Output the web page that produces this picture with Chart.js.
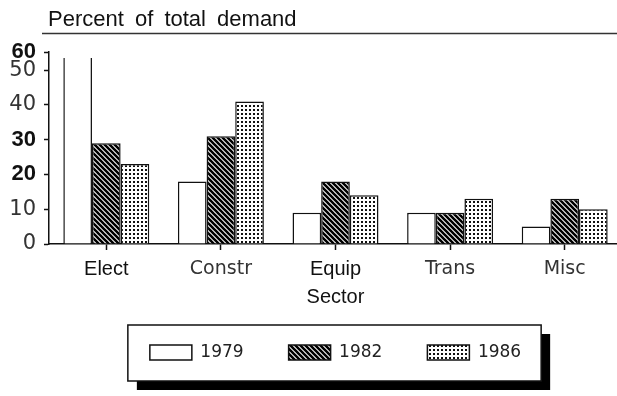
<!DOCTYPE html>
<html>
<head>
<meta charset="utf-8">
<script src="https://cdn.jsdelivr.net/npm/chart.js@4"></script>
<style>
html, body { margin: 0; padding: 0; background: #fff; overflow: hidden; }
canvas { display: block; }
</style>
</head>
<body>
<canvas id="demanda" width="622" height="396"></canvas>
<script>
const sectors = ['Elect', 'Constr', 'Equip', 'Trans', 'Misc'];
const years = ['1979', '1982', '1986'];
const share1979 = [60, 18, 9, 9, 5];
const share1982 = [29, 31, 18, 9, 13];
const share1986 = [23, 41, 14, 13, 10];
const yTickValues = [0, 10, 20, 30, 40, 50];
const yTopLabel = '60';
const boldYTicks = [20, 30];
const plainSectors = ['Elect', 'Equip'];

// axis is broken above 50, the top tick carries the "60" label
const yMax = 55.2;

function hatchPattern() {
  const s = 5;
  const c = document.createElement('canvas');
  c.width = s; c.height = s;
  const g = c.getContext('2d');
  g.fillStyle = '#fff';
  g.fillRect(0, 0, s, s);
  g.strokeStyle = '#000';
  g.lineWidth = 2.6;
  g.beginPath();
  g.moveTo(-1, -1); g.lineTo(s + 1, s + 1);
  g.moveTo(-1, s - 1); g.lineTo(1, s + 1);
  g.moveTo(s - 1, -1); g.lineTo(s + 1, 1);
  g.stroke();
  return g.createPattern(c, 'repeat');
}

function dotPattern() {
  const s = 4;
  const c = document.createElement('canvas');
  c.width = s; c.height = s;
  const g = c.getContext('2d');
  g.fillStyle = '#fff';
  g.fillRect(0, 0, s, s);
  g.fillStyle = '#111';
  g.fillRect(1, 1, 2, 2);
  return g.createPattern(c, 'repeat');
}

const isBoldTick = c => !!c.tick && (boldYTicks.includes(c.tick.value) || c.tick.value === yMax);
const isPlainSector = c => c.index !== undefined && plainSectors.includes(sectors[c.index]);

// title with rule, plus the boxed legend with its drop shadow
const decor = {
  id: 'decor',
  beforeDraw(chart) {
    const ctx = chart.ctx;
    const left = chart.chartArea.left;
    ctx.save();
    ctx.fillStyle = '#111';
    ctx.font = '22px "Liberation Sans", Arial, sans-serif';
    ctx.wordSpacing = '5px';
    ctx.textBaseline = 'alphabetic';
    ctx.fillText('Percent of total demand', left - 1, 26);
    ctx.wordSpacing = '0px';
    ctx.strokeStyle = '#333';
    ctx.lineWidth = 1.5;
    ctx.beginPath();
    ctx.moveTo(left - 7, 33.5);
    ctx.lineTo(chart.width, 33.5);
    ctx.stroke();

    const hb = chart.legend.legendHitBoxes;
    if (hb && hb.length) {
      const first = hb[0], last = hb[hb.length - 1];
      const x0 = first.left - 22, x1 = last.left + last.width + 20;
      const y0 = first.top - 19, y1 = first.top + first.height + 20;
      ctx.fillStyle = '#000';
      ctx.fillRect(x0 + 9, y0 + 9, x1 - x0, y1 - y0);
      ctx.fillStyle = '#fff';
      ctx.fillRect(x0, y0, x1 - x0, y1 - y0);
      ctx.strokeStyle = '#111';
      ctx.lineWidth = 1.5;
      ctx.strokeRect(x0, y0, x1 - x0, y1 - y0);
    }
    ctx.restore();
  }
};

const common = {
  borderColor: '#111',
  borderWidth: 1.5,
  categoryPercentage: 0.75,
  barPercentage: 1,
  clip: { left: 0, top: -6, right: 0, bottom: 0 }
};

new Chart(document.getElementById('demanda').getContext('2d'), {
  type: 'bar',
  data: {
    labels: sectors,
    datasets: [
      { ...common, label: years[0], data: share1979, backgroundColor: '#fff' },
      { ...common, label: years[1], data: share1982, backgroundColor: hatchPattern() },
      { ...common, label: years[2], data: share1986, backgroundColor: dotPattern() }
    ]
  },
  options: {
    responsive: false,
    animation: false,
    layout: { padding: { top: 52, bottom: 25, left: 0, right: 0 } },
    plugins: {
      tooltip: { enabled: false },
      legend: {
        position: 'bottom',
        fullSize: false,
        labels: {
          boxWidth: 42,
          boxHeight: 15,
          padding: 45,
          color: '#222',
          font: { family: 'DejaVu Sans', size: 17 }
        }
      }
    },
    scales: {
      x: {
        afterFit: s => { s.height = 55; },
        grid: { offset: false, drawOnChartArea: false, tickLength: 6, tickColor: '#111', tickWidth: 1.5 },
        border: { color: '#111', width: 1.5 },
        ticks: {
          padding: 7.5,
          color: c => isPlainSector(c) ? '#111' : '#333',
          font: c => isPlainSector(c)
            ? { family: 'Liberation Sans', size: 20 }
            : { family: 'DejaVu Sans', size: 19 }
        },
        title: {
          display: true,
          text: 'Sector',
          color: '#111',
          font: { family: 'Liberation Sans', size: 20 },
          padding: { top: 0, bottom: -10.5 }
        }
      },
      y: {
        min: 0,
        max: yMax,
        afterFit: s => { s.width = 49; },
        afterBuildTicks: s => { s.ticks = yTickValues.concat([yMax]).map(v => ({ value: v })); },
        grid: { drawOnChartArea: false, tickLength: 5, tickColor: '#111', tickWidth: 1.5 },
        border: { color: '#111', width: 1.5 },
        ticks: {
          padding: 8,
          callback: v => v === yMax ? yTopLabel : v,
          color: c => isBoldTick(c) ? '#111' : '#333',
          font: c => isBoldTick(c)
            ? { family: 'Liberation Sans', size: 22, weight: 'bold' }
            : { family: 'DejaVu Sans', size: 21 }
        }
      }
    }
  },
  plugins: [decor]
});
</script>
</body>
</html>
